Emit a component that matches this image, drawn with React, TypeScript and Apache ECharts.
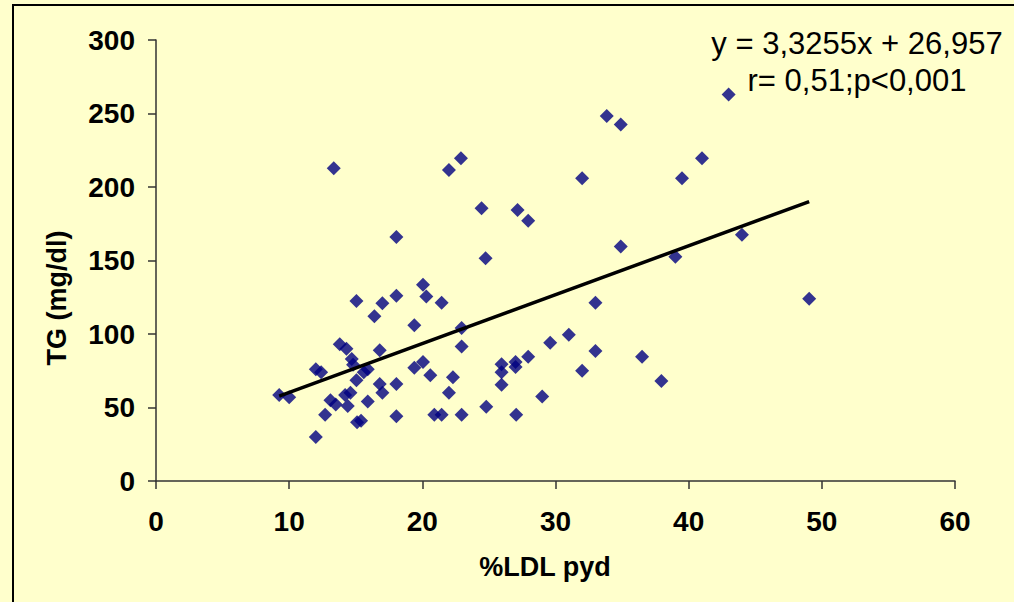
import React, { useEffect, useRef } from "react";
import * as echarts from "echarts";

// %LDL pyd values (x) and TG mg/dl values (y)
const X_VALUES = [
  9.25, 10.0, 12.0, 12.4, 12.0, 12.7, 13.1, 13.5, 13.8, 14.3,
  14.7, 14.8, 15.05, 15.05, 14.2, 14.6, 14.4, 15.1, 15.4, 15.6,
  15.9, 15.9, 16.4, 17.0, 18.05, 16.8, 16.8, 17.0, 18.05, 18.05,
  20.05, 20.3, 21.45, 19.4, 19.4, 20.05, 20.6, 20.9, 21.45, 22.95,
  22.95, 22.0, 22.3, 22.95, 24.8, 25.95, 25.95, 25.95, 27.0, 27.0,
  27.95, 27.05, 29.0, 29.6, 31.0, 32.0, 33.0, 33.0, 36.5, 37.95,
  49.05, 43.0, 33.85, 34.9, 41.0, 39.5, 34.9, 39.0, 44.0, 13.35,
  22.0, 22.9, 32.0, 24.45, 27.15, 27.95, 18.05, 24.75,
];
const Y_VALUES = [
  58.5, 57, 76, 74, 30, 45, 55, 52, 93, 90,
  83, 79, 122.5, 68.5, 58.5, 60, 51, 40, 41, 74,
  76, 54, 112, 121, 126, 89, 66, 60, 66, 44,
  133.5, 125.5, 121.3, 106, 77, 81, 72, 45, 45, 104,
  91.5, 60, 70.5, 45, 50.5, 79.5, 74, 65.5, 81, 77.5,
  84.5, 45, 57.5, 94, 99.5, 75, 121.3, 88.5, 84.5, 68,
  124, 263, 248.3, 242.6, 219.5, 206, 159.5, 152.6, 167.5, 212.7,
  211.6, 219.5, 206, 185.5, 184.4, 177, 166, 151.5,
];

// Trend line end points (y = 3,3255x + 26,957)
const TREND_X = [9.25, 49.05];
const TREND_Y = [57.7, 190.1];

const X_TICKS = { min: 0, max: 60, interval: 10 };
const Y_TICKS = { min: 0, max: 300, interval: 50 };

const EQUATION = "y = 3,3255x + 26,957";
const STATS = "r= 0,51;p<0,001";
const X_TITLE = "%LDL pyd";
const Y_TITLE = "TG (mg/dl)";

const FONT = "'Liberation Sans', Arial, sans-serif";

export default function App() {
  const ref = useRef<HTMLDivElement>(null);

  useEffect(() => {
    if (!ref.current) return;
    const chart = echarts.init(ref.current, undefined, { renderer: "svg" });
    const points = X_VALUES.map((x, i) => [x, Y_VALUES[i]]);
    const trend = TREND_X.map((x, i) => [x, TREND_Y[i]]);

    const axisCommon = {
      type: "value" as const,
      axisLine: { show: true, lineStyle: { color: "#333", width: 1.5 } },
      axisTick: { show: true, inside: false, length: 8, lineStyle: { color: "#333", width: 1.5 } },
      splitLine: { show: false },
    };

    chart.setOption({
      animation: false,
      backgroundColor: "#FFFFCC",
      grid: { left: 156, top: 40, right: 59, bottom: 121, containLabel: false },
      xAxis: {
        ...axisCommon,
        ...X_TICKS,
        axisLabel: {
          color: "#000",
          fontSize: 28,
          fontWeight: "bold",
          fontFamily: FONT,
          margin: 26,
        },
      },
      yAxis: {
        ...axisCommon,
        ...Y_TICKS,
        axisLabel: {
          color: "#000",
          fontSize: 28,
          fontWeight: "bold",
          fontFamily: FONT,
          margin: 21,
        },
      },
      series: [
        {
          type: "line",
          data: trend,
          symbol: "none",
          lineStyle: { color: "#000", width: 3.5 },
          z: 3,
        },
        {
          type: "scatter",
          data: points,
          symbol: "diamond",
          symbolSize: 14,
          itemStyle: { color: "#000080" },
          z: 2,
        },
      ],
      graphic: [
        {
          type: "rect",
          shape: { x: 13, y: 5, width: 1100, height: 700 },
          style: { fill: "none", stroke: "#000", lineWidth: 2 },
          silent: true,
        },
        {
          type: "text",
          x: 857,
          y: 43,
          style: {
            text: EQUATION,
            font: `31px ${FONT}`,
            fill: "#000",
            textAlign: "center",
            textVerticalAlign: "middle",
          },
        },
        {
          type: "text",
          x: 857,
          y: 80,
          style: {
            text: STATS,
            font: `31px ${FONT}`,
            fill: "#000",
            textAlign: "center",
            textVerticalAlign: "middle",
          },
        },
        {
          type: "text",
          x: 545,
          y: 567,
          style: {
            text: X_TITLE,
            font: `bold 27px ${FONT}`,
            fill: "#000",
            textAlign: "center",
            textVerticalAlign: "middle",
          },
        },
        {
          type: "text",
          x: 57,
          y: 298,
          rotation: Math.PI / 2,
          style: {
            text: Y_TITLE,
            font: `bold 27px ${FONT}`,
            fill: "#000",
            textAlign: "center",
            textVerticalAlign: "middle",
          },
        },
      ],
    });

    return () => chart.dispose();
  }, []);

  return (
    <div
      ref={ref}
      style={{ position: "fixed", left: 0, top: 0, width: 1014, height: 602 }}
    />
  );
}
